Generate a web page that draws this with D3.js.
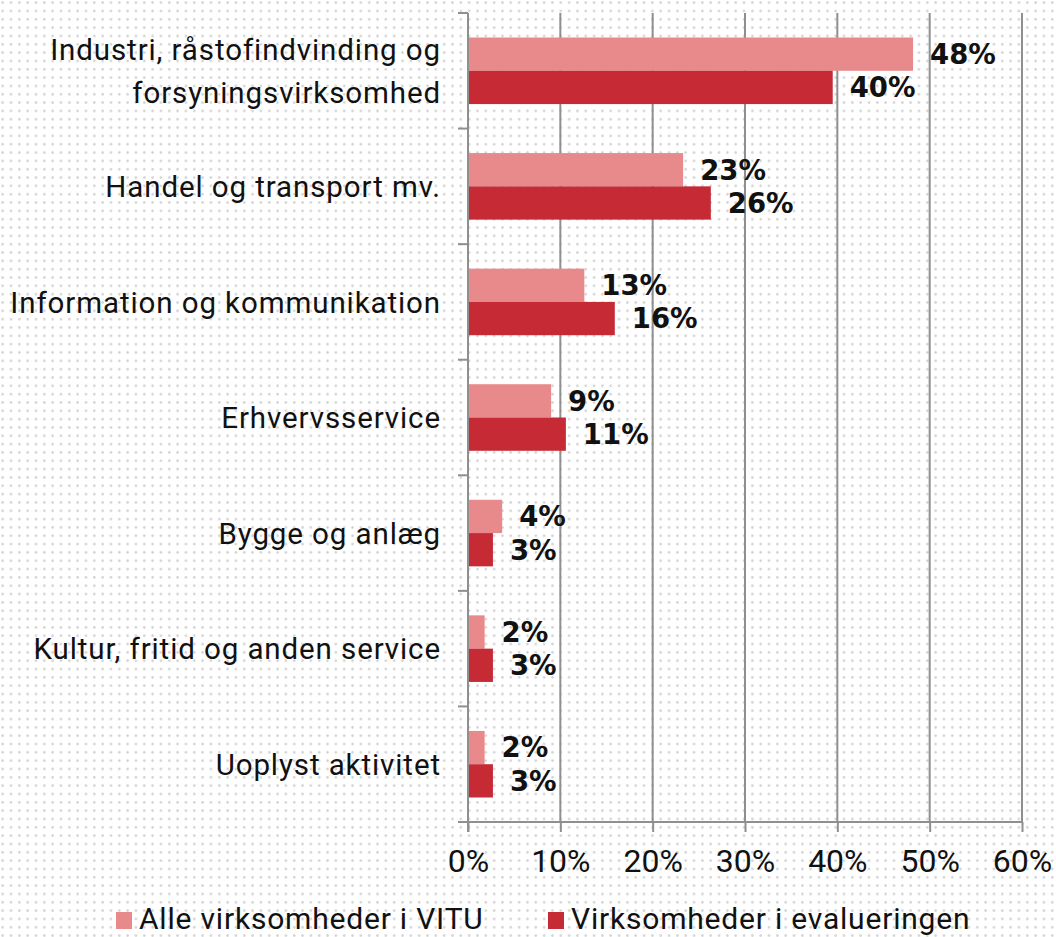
<!DOCTYPE html>
<html>
<head>
<meta charset="utf-8">
<script src="https://cdn.jsdelivr.net/npm/d3@7"></script>
<style>
  html, body { margin: 0; padding: 0; background: #fff; }
  svg { display: block; }
</style>
</head>
<body>
<svg id="chart" width="1056" height="937"></svg>
<script>
// categories (top to bottom)
const categories = [
  ['Industri, råstofindvinding og', 'forsyningsvirksomhed'],
  ['Handel og transport mv.'],
  ['Information og kommunikation'],
  ['Erhvervsservice'],
  ['Bygge og anlæg'],
  ['Kultur, fritid og anden service'],
  ['Uoplyst aktivitet']
];
const seriesNames = ['Alle virksomheder i VITU', 'Virksomheder i evalueringen'];
const alleVitu = [48.2, 23.3, 12.6, 9.0, 3.7, 1.8, 1.8];
const evaluering = [39.5, 26.3, 15.9, 10.6, 2.7, 2.7, 2.7];
const labelsAlle = ['48%', '23%', '13%', '9%', '4%', '2%', '2%'];
const labelsEval = ['40%', '26%', '16%', '11%', '3%', '3%', '3%'];
const xTicks = [0, 10, 20, 30, 40, 50, 60];
const colors = ['#e8898b', '#c52a35'];

const svg = d3.select('#chart');

// dotted background
const defs = svg.append('defs');
const pat = defs.append('pattern')
  .attr('id', 'dots')
  .attr('patternUnits', 'userSpaceOnUse')
  .attr('width', 8.33).attr('height', 8.33)
  .attr('x', -1.5).attr('y', -1.5);
pat.append('circle').attr('cx', 4.16).attr('cy', 4.16).attr('r', 1.3).attr('fill', '#d2d2d2');
svg.append('rect').attr('width', 1056).attr('height', 937).attr('fill', '#fff');
svg.append('rect').attr('width', 1056).attr('height', 937).attr('fill', 'url(#dots)');

const x = d3.scaleLinear().domain([0, 60]).range([468, 1022]);
const y = d3.scaleBand()
  .domain(d3.range(categories.length))
  .range([13, 822])
  .paddingInner(0.424)
  .paddingOuter(0.212);
const ySub = d3.scaleBand().domain([0, 1]).range([0, y.bandwidth()]);

const gridColor = '#8f8f8f';
const textFont = 'Roboto, sans-serif';

// vertical gridlines
svg.append('g')
  .selectAll('line')
  .data(xTicks.slice(1))
  .join('line')
  .attr('x1', d => x(d)).attr('x2', d => x(d))
  .attr('y1', 13).attr('y2', 822)
  .attr('stroke', gridColor).attr('stroke-width', 2);

// bars
const rows = categories.map((c, i) => ({ i, vals: [alleVitu[i], evaluering[i]], labs: [labelsAlle[i], labelsEval[i]] }));
const groups = svg.append('g').selectAll('g')
  .data(rows)
  .join('g')
  .attr('transform', d => `translate(0,${y(d.i)})`);

groups.selectAll('rect')
  .data(d => d.vals.map((v, k) => ({ v, k })))
  .join('rect')
  .attr('x', x(0))
  .attr('y', d => ySub(d.k))
  .attr('width', d => x(d.v) - x(0))
  .attr('height', ySub.bandwidth())
  .attr('fill', d => colors[d.k]);

groups.selectAll('text')
  .data(d => d.vals.map((v, k) => ({ v, k, lab: d.labs[k] })))
  .join('text')
  .attr('x', d => x(d.v) + 17)
  .attr('y', d => ySub(d.k) + ySub.bandwidth() / 2)
  .attr('dy', '0.36em')
  .attr('font-family', '"DejaVu Sans", sans-serif')
  .attr('font-weight', 'bold')
  .attr('font-size', 27.5)
  .attr('fill', '#111')
  .text(d => d.lab);

// y axis
const yAxisG = svg.append('g');
yAxisG.append('line')
  .attr('x1', x(0)).attr('x2', x(0))
  .attr('y1', 13).attr('y2', 832)
  .attr('stroke', gridColor).attr('stroke-width', 2);
const yTickPos = d3.range(categories.length + 1).map(i => 13 + i * y.step());
yAxisG.selectAll('line.tick')
  .data(yTickPos)
  .join('line')
  .attr('class', 'tick')
  .attr('x1', x(0) - 10).attr('x2', x(0))
  .attr('y1', d => d).attr('y2', d => d)
  .attr('stroke', gridColor).attr('stroke-width', 2);

// category labels
const catG = svg.append('g')
  .attr('font-family', textFont)
  .attr('font-size', 29.5)
  .attr('letter-spacing', 0.9)
  .attr('fill', '#111')
  .attr('text-anchor', 'end');
catG.selectAll('text')
  .data(categories.map((c, i) => ({ c, i })))
  .join('text')
  .attr('transform', d => `translate(441,${y(d.i) + y.bandwidth() / 2})`)
  .each(function(d) {
    const t = d3.select(this);
    const lh = 43;
    const off = -(d.c.length - 1) * lh / 2;
    d.c.forEach((line, j) => {
      t.append('tspan').attr('x', 0).attr('y', off + j * lh).attr('dy', '0.36em').text(line);
    });
  });

// x axis
const xAxis = d3.axisBottom(x)
  .tickValues(xTicks)
  .tickSize(10)
  .tickPadding(17)
  .tickFormat(d => d + '%');
const xg = svg.append('g').attr('transform', 'translate(0,822)').call(xAxis);
xg.select('.domain').remove();
xg.append('line')
  .attr('x1', x(0) - 10).attr('x2', x(60))
  .attr('stroke', gridColor).attr('stroke-width', 2);
xg.selectAll('.tick line').attr('stroke', gridColor).attr('stroke-width', 2);
xg.selectAll('.tick text')
  .attr('font-family', textFont)
  .attr('font-size', 32)
  .attr('fill', '#111');

// legend
const legendX = [116, 548];
const lg = svg.append('g');
const items = lg.selectAll('g')
  .data(seriesNames.map((n, k) => ({ n, k })))
  .join('g')
  .attr('transform', d => `translate(${legendX[d.k]},929)`);
items.append('rect')
  .attr('x', 0).attr('y', -17)
  .attr('width', 16).attr('height', 17)
  .attr('fill', d => colors[d.k]);
items.append('text')
  .attr('x', 23).attr('y', 0)
  .attr('font-family', textFont)
  .attr('font-size', 30)
  .attr('letter-spacing', 0.8)
  .attr('fill', '#111')
  .text(d => d.n);
</script>
</body>
</html>
